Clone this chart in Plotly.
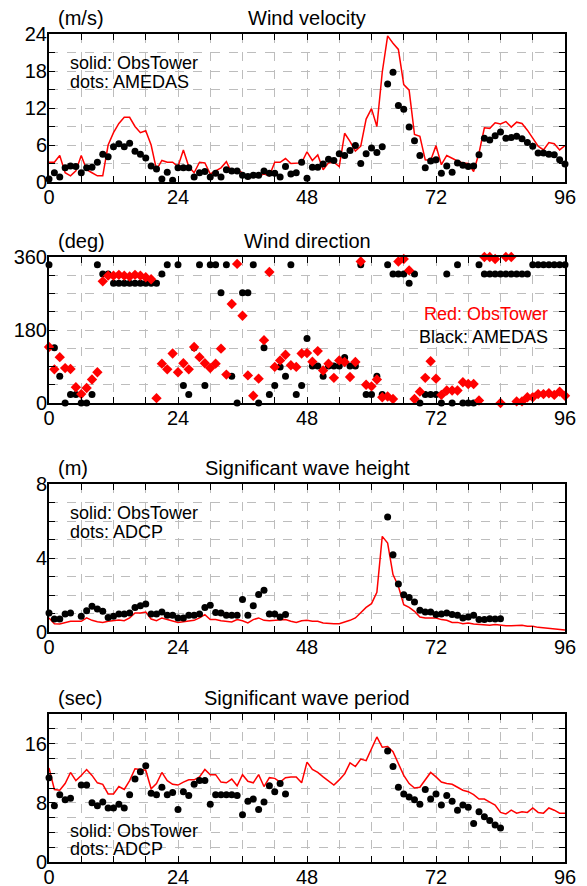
import plotly.graph_objects as go

hours = list(range(97))

# wind velocity (m/s)
wind_tower = [3.2, 3.2, 4.3, 1.5, 1.0, 1.8, 4.3, 2.0, 1.5, 1.0, 1.0, 6.0,
              8.0, 9.5, 10.5, 10.5, 9.0, 8.0, 8.3, 6.0, 2.0, 3.5, 3.2, 3.2,
              2.5, 5.2, 2.5, 1.5, 3.2, 3.1, 1.3, 1.8, 2.3, 3.3, 1.5, 2.0,
              1.5, 0.5, 1.0, 1.0, 1.3, 1.0, 3.2, 3.2, 3.8, 3.0, 3.0, 3.1,
              4.9, 3.5, 4.4, 2.0, 3.1, 3.2, 2.5, 7.9, 6.6, 5.0, 5.8, 10.2,
              11.9, 9.0, 17.8, 23.7, 22.5, 21.5, 15.8, 14.9, 7.7, 7.4, 3.6, 3.5,
              5.9, 2.8, 4.3, 3.8, 3.4, 3.1, 3.0, 1.7, 4.7, 8.8, 8.7, 9.6,
              9.4, 9.8, 8.9, 9.7, 9.5, 8.4, 7.1, 5.8, 5.2, 6.4, 6.2, 5.2, 5.9]
wind_amedas = [0.5, 1.5, 0.8, 2.3, 2.6, 2.5, 1.5, 2.3, 2.4, 3.2, 4.5, 4.1,
               5.7, 6.2, 5.7, 6.3, 5.0, 4.5, 3.9, 2.6, 2.1, 0.5, 1.6, 0.3,
               2.3, 2.3, 2.3, 0.8, 1.5, 1.7, 0.8, 1.4, 0.8, 2.0, 1.8, 1.8,
               1.1, 0.9, 1.1, 1.1, 1.8, 1.4, 1.4, 0.8, 2.5, 1.3, 1.5, 3.2,
               0.6, 2.4, 2.4, 2.9, 3.7, 3.5, 4.6, 4.3, 5.1, 5.9, 3.0, 4.6,
               5.5, 4.8, 5.7, 15.9, 17.8, 12.4, 11.8, 8.9, 6.7, 4.3, 2.3, 3.4,
               3.6, 1.4, 2.6, 1.6, 3.1, 2.7, 2.5, 2.6, 4.4, 7.1, 6.8, 7.5,
               8.1, 7.1, 7.2, 7.4, 7.0, 6.4, 5.8, 4.7, 4.7, 4.5, 4.4, 3.6, 2.9]

# wind direction (deg)
dir_tower = [138, 83, 113, 86, 84, 39, 22, 37, 58, 76, 300, 314,
             314, 316, 314, 312, 316, 314, 310, 305, 12, 97, 83, 122,
             76, 98, 83, 138, 113, 98, 86, 97, 134, 70, 244, 343,
             215, 68, 18, 60, 155, 323, 89, 105, 119, 93, 89, 122,
             123, 102, 128, 80, 97, 62, 105, 101, 64, 101, 349, 45,
             41, 58, 14, 16, 10, 349, 355, 327, 10, 28, 62, 103,
             60, 20, 31, 31, 31, 51, 47, 47, 6, 360, 360, 355,
             0, 360, 360, 4, 4, 14, 14, 22, 22, 24, 20, 28, 18]
dir_amedas = [341, 136, 66, 0, 21, 21, 0, 0, 21, 341, 318, 318,
              295, 295, 295, 295, 295, 295, 295, 295, 295, 318, 341, None,
              341, 43, 21, 136, 341, 43, 341, 341, 272, 341, 66, 0,
              272, 272, 341, 0, 136, 21, 43, 89, 66, 341, 21, 43,
              159, 91, 91, 66, 91, 91, 91, 112, 91, 91, 341, 21,
              21, 66, 21, 341, 318, 318, 318, 295, 318, 0, 21, 21,
              21, 0, 318, 0, 341, 0, 0, 0, 341, 318, 318, 318,
              318, 318, 318, 318, 318, 318, 341, 341, 341, 341, 341, 341, 341]

# significant wave height (m)
hs_tower = [0.76, 0.45, 0.43, 0.52, 0.58, 0.58, 0.58, 0.76, 0.63, 0.56, 0.52, 0.58,
            0.61, 0.65, 0.61, 0.76, 1.03, 1.03, 1.08, 0.70, 0.61, 0.76, 0.67, 0.61,
            0.52, 0.56, 0.61, 0.63, 0.76, 0.94, 0.67, 0.67, 0.61, 0.56, 0.54, 0.67,
            0.61, 0.49, 0.67, 0.76, 0.63, 0.61, 0.63, 0.61, 0.67, 0.58, 0.52, 0.61,
            0.63, 0.58, 0.58, 0.49, 0.45, 0.45, 0.45, 0.52, 0.63, 0.76, 1.06, 1.33,
            1.53, 2.14, 5.17, 4.81, 3.10, 2.47, 1.48, 1.33, 1.12, 0.81, 0.76, 0.76,
            0.76, 0.67, 0.63, 0.52, 0.52, 0.45, 0.49, 0.43, 0.40, 0.36, 0.36, 0.40,
            0.36, 0.34, 0.34, 0.34, 0.36, 0.31, 0.31, 0.25, 0.22, 0.18, 0.13, 0.11, 0.11]
hs_adcp = [1.03, 0.70, 0.70, 0.97, 1.03, None, 0.85, 1.15, 1.39, 1.24, 1.12, 0.79,
           0.85, 0.97, 0.97, 1.03, 1.33, 1.42, 1.51, 0.97, 0.97, 1.08, 0.90, 0.90,
           0.76, 0.76, 0.90, 0.90, 0.97, 1.33, 1.44, 1.06, 1.03, 0.90, 0.90, 0.90,
           1.75, 0.90, 1.42, 2.03, 2.25, 0.97, 0.97, 0.81, 0.94, None, None, None,
           None, None, None, None, None, None, None, None, None, None, None, None,
           None, None, None, 6.22, 4.18, 2.59, 2.02, 1.87, 1.62, 1.17, 1.08, 1.08,
           0.94, 0.97, 1.03, 0.94, 0.90, 0.76, 0.81, 0.90, 0.67, 0.67, 0.72, 0.70,
           0.72, None, None, None, None, None, None, None, None, None, None, None, None]

# significant wave period (sec)
tp_tower = [12.7, 9.8, 9.7, 10.6, 12.1, 11.0, 11.7, 12.5, 11.7, 10.7, 10.5, 9.2,
            9.2, 10.2, 9.8, 11.0, 12.6, 12.5, 12.4, 9.9, 10.6, 12.1, 11.0, 10.5,
            10.4, 10.8, 11.1, 11.1, 11.5, 12.5, 11.8, 11.8, 10.8, 10.7, 11.2, 10.3,
            11.8, 10.9, 10.7, 11.8, 10.2, 11.4, 11.3, 10.8, 11.4, 11.5, 11.5, 10.7,
            13.5, 12.5, 12.1, 11.5, 10.9, 10.4, 11.1, 11.9, 13.4, 12.9, 13.9, 13.7,
            15.3, 16.9, 15.5, 15.6, 14.9, 13.4, 11.7, 10.6, 10.0, 10.1, 11.1, 12.1,
            11.5, 10.8, 10.6, 10.5, 10.1, 9.7, 9.5, 9.1, 8.5, 8.5, 8.1, 7.7,
            6.7, 6.5, 7.0, 6.6, 6.8, 6.7, 7.3, 6.7, 6.6, 7.3, 7.0, 6.6, 6.6]
tp_adcp = [11.4, 7.6, 9.1, 8.4, 8.6, None, 10.4, 10.4, 8.0, 7.6, 8.1, 7.3,
           7.3, 7.8, 7.3, 9.1, 11.2, 12.2, 13.0, 9.3, 9.1, 10.1, 9.1, 9.4,
           7.1, 9.5, 9.0, 10.5, 11.0, 11.0, 7.8, 9.1, 9.1, 9.1, 9.1, 9.0,
           6.4, 8.2, 8.5, 7.1, 8.1, 10.3, 9.5, 10.6, 9.2, None, None, None,
           None, None, None, None, None, None, None, None, None, None, None, None,
           None, None, None, 15.0, 12.9, 10.1, 9.2, 8.8, 8.4, 7.8, 9.8, 8.5,
           9.2, 7.7, 9.0, 8.2, 7.0, 7.7, 7.4, 5.2, 6.8, 6.1, 5.6, 5.0,
           4.6, None, None, None, None, None, None, None, None, None, None, None, None]

# the page body has an 8px margin, so the figure is shrunk by that much
OFF = 8
W, H = 587 - OFF, 886 - OFF
FONT = "Liberation Sans"
RED = "#ff0000"

# window-pixel boxes of the four panels (top, bottom)
boxes = [(34, 182), (257, 403), (484, 632), (714, 862)]
yranges = [[0, 24], [0, 360], [0, 8], [0, 20]]
ymajor = [[0, 6, 12, 18, 24], [0, 180, 360], [0, 4, 8], [0, 8, 16]]
yminor = [3, 45, 1, 2]
titles = ["Wind velocity", "Wind direction", "Significant wave height", "Significant wave period"]
units = ["(m/s)", "(deg)", "(m)", "(sec)"]


def px(p):
    return (p - OFF) / W


def py(p):
    return 1 - (p - OFF) / H


fig = go.Figure()

line_series = [wind_tower, None, hs_tower, tp_tower]
dot_series = [wind_amedas, dir_amedas, hs_adcp, tp_adcp]

for i in range(4):
    n = "" if i == 0 else str(i + 1)
    if line_series[i] is not None:
        fig.add_trace(go.Scatter(x=hours, y=line_series[i], mode="lines",
                                 line=dict(color=RED, width=1.5),
                                 xaxis="x" + n, yaxis="y" + n, showlegend=False))
    fig.add_trace(go.Scatter(x=hours, y=dot_series[i], mode="markers",
                             marker=dict(color="black", size=7),
                             cliponaxis=False,
                             xaxis="x" + n, yaxis="y" + n, showlegend=False))
    if i == 1:
        fig.add_trace(go.Scatter(x=hours, y=dir_tower, mode="markers",
                                 marker=dict(color=RED, size=8, symbol="diamond"),
                                 cliponaxis=False,
                                 xaxis="x2", yaxis="y2", showlegend=False))

grid = dict(showgrid=True, gridcolor="#bdbdbd", gridwidth=1, griddash="dash")
axis_common = dict(showline=True, linecolor="black", linewidth=2, mirror="ticks",
                   ticks="inside", ticklen=6, tickwidth=1, tickcolor="black",
                   zeroline=False, automargin=False,
                   tickfont=dict(family=FONT, size=20, color="black"),
                   **grid)

layout = dict(width=W, height=H, margin=dict(l=0, r=0, t=0, b=0),
              plot_bgcolor="white", paper_bgcolor="white",
              font=dict(family=FONT, color="black"))

annotations = []
for i, (top, bot) in enumerate(boxes):
    n = "" if i == 0 else str(i + 1)
    layout["xaxis" + n] = dict(domain=[px(49), px(565)], range=[0, 96],
                               tickmode="array", tickvals=[0, 24, 48, 72, 96],
                               ticklabelstandoff=-4,
                               minor=dict(dtick=6, tick0=0, ticks="inside", ticklen=6,
                                          tickcolor="black", **grid),
                               anchor="y" + n, **axis_common)
    layout["yaxis" + n] = dict(domain=[py(bot), py(top)], range=yranges[i],
                               tickmode="array", tickvals=ymajor[i],
                               ticklabelstandoff=-4,
                               minor=dict(dtick=yminor[i], tick0=0, ticks="inside", ticklen=6,
                                          tickcolor="black", **grid),
                               anchor="x" + n, **axis_common)
    annotations.append(dict(text=titles[i], x=px(307), y=py(top - 16), xref="paper", yref="paper",
                            showarrow=False, xanchor="center", yanchor="middle",
                            font=dict(size=20, family=FONT)))
    annotations.append(dict(text=units[i], x=px(56), y=py(top - 16), xref="paper", yref="paper",
                            showarrow=False, xanchor="left", yanchor="middle",
                            font=dict(size=20, family=FONT)))

notes = [("solid: ObsTower", 68, 63, "left", "black"),
         ("dots: AMEDAS", 68, 82, "left", "black"),
         ("Red: ObsTower", 550, 314, "right", RED),
         ("Black: AMEDAS", 550, 337, "right", "black"),
         ("solid: ObsTower", 68, 513, "left", "black"),
         ("dots: ADCP", 68, 532, "left", "black"),
         ("solid: ObsTower", 68, 831, "left", "black"),
         ("dots: ADCP", 68, 849, "left", "black")]
for text, x, y, anchor, color in notes:
    annotations.append(dict(text=text, x=px(x), y=py(y), xref="paper", yref="paper",
                            showarrow=False, xanchor=anchor, yanchor="middle",
                            font=dict(size=18, family=FONT, color=color)))

layout["annotations"] = annotations
fig.update_layout(**layout)
fig.write_html("out.html")
